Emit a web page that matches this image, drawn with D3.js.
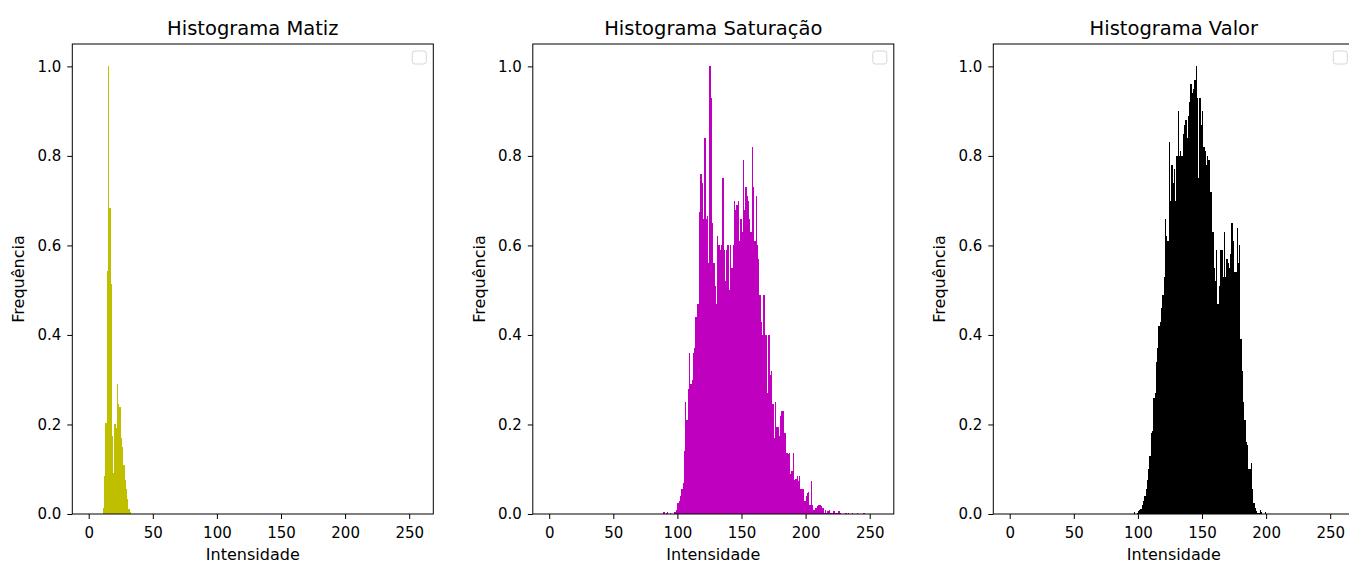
<html>
<script src="https://cdn.jsdelivr.net/npm/d3@7"></script>
<style>
body { margin: 0; background: #fff; }
text { font-family: "DejaVu Sans", sans-serif; fill: #000; }
</style>
<body>
<svg width="1349" height="563"></svg>
<script>
// histogram data, normalised so the highest bin is 1.0
// each series starts at the given bin (intensity) and goes one bin per value
var hueStart = 11;
var hueFreq = [0.014, 0.085, 0.204, 0.543, 1.0, 0.684, 0.514, 0.174, 0.092, 0.201,
  0.193, 0.29, 0.246, 0.24, 0.17, 0.15, 0.11, 0.075, 0.055, 0.033, 0.012, 0.004];

var satStart = 89;
var satFreq = [0.004, 0, 0.003, 0.004, 0, 0.003, 0, 0, 0.005, 0.004, 0.008,
  0.024, 0.03, 0.04, 0.055, 0.07, 0.14, 0.25, 0.21, 0.28, 0.36,
  0.29, 0.30, 0.36, 0.37, 0.44, 0.47, 0.47, 0.675, 0.76, 0.74,
  0.66, 0.84, 0.66, 0.665, 0.56, 1.0, 0.93, 0.65, 0.56, 0.51,
  0.47, 0.62, 0.60, 0.59, 0.60, 0.75, 0.59, 0.52, 0.59, 0.60,
  0.50, 0.60, 0.55, 0.60, 0.70, 0.68, 0.69, 0.70, 0.61, 0.66,
  0.63, 0.79, 0.68, 0.73, 0.71, 0.70, 0.66, 0.63, 0.82, 0.73,
  0.61, 0.71, 0.60, 0.57, 0.49, 0.43, 0.40, 0.49, 0.40, 0.40,
  0.27, 0.40, 0.31, 0.32, 0.245, 0.17, 0.25, 0.195, 0.195, 0.175,
  0.22, 0.23, 0.23, 0.18, 0.18, 0.137, 0.135, 0.137, 0.09, 0.095,
  0.137, 0.077, 0.078, 0.085, 0.074, 0.085, 0.055, 0.056, 0.055, 0.03,
  0.04, 0.048, 0.05, 0.02, 0.074, 0.02, 0.01, 0.014, 0.014, 0.018,
  0.02, 0.02, 0.018, 0.014, 0.003, 0.009, 0.003, 0.007, 0.009, 0.002,
  0.003, 0.007, 0.007, 0.002, 0.003, 0.007, 0.007, 0.002, 0.001, 0,
  0, 0.002, 0, 0.003, 0, 0, 0.002, 0, 0, 0,
  0.002, 0, 0, 0, 0, 0.002, 0, 0, 0.001];

var valStart = 97;
var valFreq = [0.005, 0, 0.003, 0.007, 0.009, 0.012, 0.02, 0.028, 0.04, 0.055,
  0.075, 0.10, 0.13, 0.18, 0.185, 0.26, 0.27, 0.34, 0.37, 0.42,
  0.43, 0.46, 0.49, 0.53, 0.66, 0.62, 0.61, 0.83, 0.70, 0.78,
  0.74, 0.77, 0.70, 0.80, 0.90, 0.80, 0.81, 0.80, 0.85, 0.87,
  0.88, 0.84, 0.89, 0.92, 0.96, 0.94, 0.95, 0.97, 1.0, 0.93,
  0.75, 0.93, 0.87, 0.90, 0.82, 0.81, 0.78, 0.80, 0.79, 0.72,
  0.72, 0.63, 0.55, 0.52, 0.59, 0.47, 0.51, 0.59, 0.59, 0.53,
  0.63, 0.53, 0.57, 0.56, 0.55, 0.58, 0.65, 0.61, 0.54, 0.54,
  0.64, 0.56, 0.60, 0.39, 0.32, 0.25, 0.21, 0.16, 0.155, 0.10,
  0.10, 0.113, 0.055, 0.025, 0.014, 0.007, 0.003, 0.003, 0.009, 0.004,
  0, 0, 0.004];

var titles = ["Histograma Matiz", "Histograma Saturação", "Histograma Valor"];
var colors = ["#bfbf00", "#bf00bf", "#000000"];
var xTicks = [0, 50, 100, 150, 200, 250];
var yTicks = [0, 0.2, 0.4, 0.6, 0.8, 1.0];

var panels = [
  {start: hueStart, freq: hueFreq},
  {start: satStart, freq: satFreq},
  {start: valStart, freq: valFreq}
];

var lefts = [72.3, 532.8, 993.3];
var axTop = 44, w = 361, h = 470;

var x = d3.scaleLinear().domain([-12.8, 268.8]).range([0, w]);
var y = d3.scaleLinear().domain([0, 1.05]).range([h, 0]);

var svg = d3.select("svg");

panels.forEach(function(p, k) {
  var g = svg.append("g").attr("transform", "translate(" + lefts[k] + "," + axTop + ")");

  var bins = p.freq.map(function(v, i) { return {bin: p.start + i, v: v}; })
    .filter(function(d) { return d.v > 0; });

  g.selectAll("rect.bar")
    .data(bins)
    .enter()
    .append("rect")
    .attr("class", "bar")
    .attr("x", function(d) { return x(d.bin); })
    .attr("width", function(d) { return x(d.bin + 1) - x(d.bin); })
    .attr("y", function(d) { return y(d.v); })
    .attr("height", function(d) { return y(0) - y(d.v); })
    .attr("shape-rendering", "crispEdges")
    .style("fill", colors[k]);

  // axes
  var xa = g.append("g").attr("transform", "translate(0," + h + ")")
    .call(d3.axisBottom(x).tickValues(xTicks).tickSize(5).tickPadding(5).tickFormat(d3.format("d")));
  var ya = g.append("g")
    .call(d3.axisLeft(y).tickValues(yTicks).tickSize(5).tickPadding(6).tickFormat(d3.format(".1f")));
  [xa, ya].forEach(function(a) {
    a.select(".domain").remove();
    a.selectAll("text").style("font-size", "15px").style("font-family", "DejaVu Sans").attr("fill", "#000");
    a.selectAll("line").attr("stroke", "#000").attr("stroke-width", 1);
  });
  xa.selectAll("text").attr("dy", "0.95em");

  // frame
  g.append("rect")
    .attr("x", 0).attr("y", 0).attr("width", w).attr("height", h)
    .style("fill", "none").style("stroke", "#000").style("stroke-width", 1);

  // empty legend box
  g.append("rect")
    .attr("x", w - 21).attr("y", 7).attr("width", 14).attr("height", 13)
    .attr("rx", 2.5)
    .style("fill", "#fff").style("fill-opacity", 0.8)
    .style("stroke", "#d6d6d6").style("stroke-width", 1);

  g.append("text")
    .attr("x", w / 2).attr("y", -9)
    .style("text-anchor", "middle")
    .style("font-size", "19.5px")
    .text(titles[k]);

  g.append("text")
    .attr("x", w / 2).attr("y", h + 46)
    .style("text-anchor", "middle")
    .style("font-size", "16px")
    .text("Intensidade");

  g.append("text")
    .attr("transform", "translate(-48," + (h / 2) + ") rotate(-90)")
    .style("text-anchor", "middle")
    .style("font-size", "16px")
    .text("Frequência");
});
</script>
</body>
</html>
